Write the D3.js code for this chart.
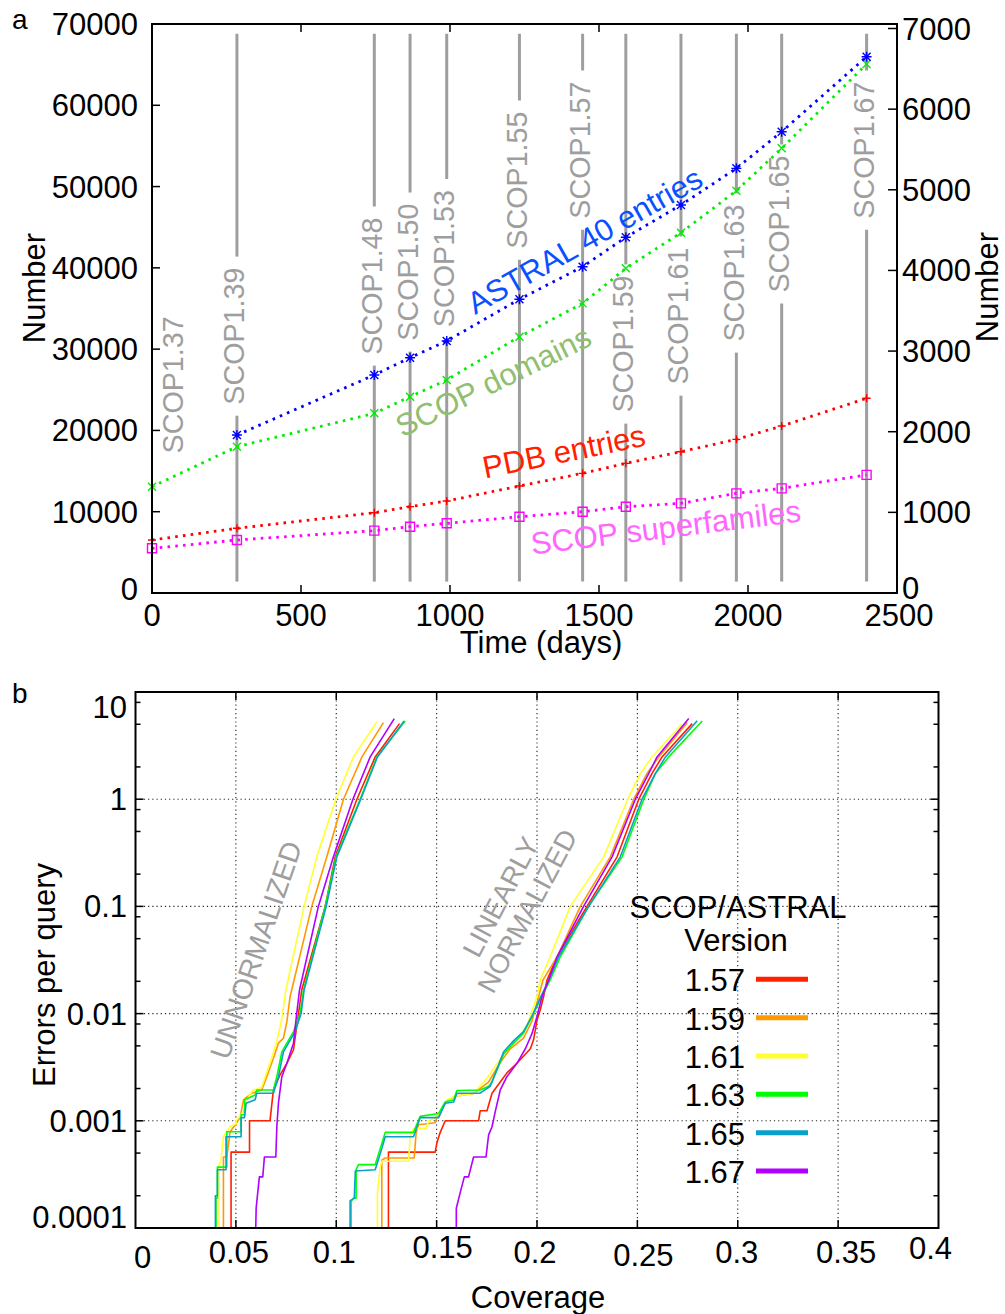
<!DOCTYPE html>
<html>
<head>
<meta charset="utf-8">
<script src="https://cdn.jsdelivr.net/npm/d3@7/dist/d3.min.js"></script>
<style>
  body { margin: 0; background: #fff; }
  svg text { font-family: "Liberation Sans", Arial, Helvetica, sans-serif; }
</style>
</head>
<body>
<svg id="fig" width="1005" height="1314"></svg>
<script>
// ---------- Panel a: growth of SCOP / ASTRAL over time ----------
const releases      = ["1.37","1.39","1.48","1.50","1.53","1.55","1.57","1.59","1.61","1.63","1.65","1.67"];
const releaseDays   = [0, 285, 746, 866, 989, 1233, 1445, 1590, 1775, 1961, 2113, 2398];
// height (left-axis units) at which each release label is centred
const releaseLabelAt = [25600, 31600, 37760, 39480, 41140, 50800, 54490, 30630, 34070, 39360, 45390, 54490];
// left axis
const scopDomains   = [13080, 18000, 22100, 24150, 26200, 31530, 35630, 39940, 44320, 49490, 54700, 65070];
const pdbEntries    = [6520, 7960, 9880, 10620, 11320, 13160, 14720, 15950, 17380, 18900, 20540, 23950];
// right axis
const astral40      = [null, 1959, 2703, 2918, 3125, 3642, 4046, 4411, 4811, 5266, 5720, 6650];
const superfamilies = [554, 657, 773, 822, 864, 946, 1008, 1070, 1112, 1236, 1298, 1465];

const timeTicks  = [0, 500, 1000, 1500, 2000, 2500];
const leftTicks  = [0, 10000, 20000, 30000, 40000, 50000, 60000, 70000];
const rightTicks = [0, 1000, 2000, 3000, 4000, 5000, 6000, 7000];

// ---------- Panel b: errors per query vs coverage ----------
const versions = ["1.57", "1.59", "1.61", "1.63", "1.65", "1.67"];
const covTicks = [0, 0.05, 0.1, 0.15, 0.2, 0.25, 0.3, 0.35, 0.4];
const errTicks = [0.0001, 0.001, 0.01, 0.1, 1, 10];
const errTickLabels = ["0.0001", "0.001", "0.01", "0.1", "1", "10"];

// [coverage, errors per query]
const unnorm157 = [[0.0476,1e-4],[0.0476,5.1e-4],[0.0568,5.1e-4],[0.0568,1.0e-3],[0.0670,1.0e-3],[0.0687,1.94e-3],[0.0720,2.68e-3],[0.0754,3.44e-3],[0.0787,4.6e-3],[0.0812,0.01],[0.0828,0.0166],[0.0945,0.1],[0.0995,0.29],[0.1103,1],[0.1194,2.48],[0.1315,5.07]];
const unnorm159 = [[0.0438,1e-4],[0.0438,4.6e-4],[0.0455,4.6e-4],[0.0471,7.9e-4],[0.0501,9.4e-4],[0.0521,1.07e-3],[0.0538,1.57e-3],[0.0579,1.81e-3],[0.0629,1.94e-3],[0.0654,2.58e-3],[0.0687,3.83e-3],[0.0712,5.3e-3],[0.0737,5.9e-3],[0.0754,8.4e-3],[0.0770,0.0144],[0.0778,0.0166],[0.0878,0.1],[0.0953,0.29],[0.1036,1],[0.1128,2.48],[0.1235,5.18]];
const unnorm161 = [[0.0416,1e-4],[0.0416,3.9e-4],[0.0425,4.2e-4],[0.0438,7.1e-4],[0.0471,8.8e-4],[0.0501,9.4e-4],[0.0501,1.0e-3],[0.0538,1.22e-3],[0.0551,1.46e-3],[0.0568,1.74e-3],[0.0587,1.94e-3],[0.0629,2.06e-3],[0.0646,2.58e-3],[0.0670,3.44e-3],[0.0704,5.5e-3],[0.0729,9.0e-3],[0.0749,0.0166],[0.0840,0.1],[0.0903,0.29],[0.0998,1],[0.1086,2.48],[0.1202,5.26]];
const unnorm163 = [[0.0401,1e-4],[0.0401,1.9e-4],[0.0408,1.9e-4],[0.0408,3.7e-4],[0.0455,3.7e-4],[0.0455,7.9e-4],[0.0526,7.9e-4],[0.0526,1.14e-3],[0.0543,1.14e-3],[0.0543,1.57e-3],[0.0596,1.74e-3],[0.0604,1.94e-3],[0.0687,1.94e-3],[0.0704,2.58e-3],[0.0729,4.4e-3],[0.0787,6.8e-3],[0.0820,0.01],[0.0837,0.0166],[0.0945,0.1],[0.0999,0.29],[0.1119,1],[0.1202,2.48],[0.1343,5.37]];
const unnorm165 = [[0.0398,1e-4],[0.0398,2.0e-4],[0.0408,2.0e-4],[0.0408,3.5e-4],[0.0451,3.5e-4],[0.0451,7.1e-4],[0.0526,7.1e-4],[0.0526,1.07e-3],[0.0543,1.07e-3],[0.0551,1.46e-3],[0.0596,1.57e-3],[0.0604,1.81e-3],[0.0687,1.81e-3],[0.0712,2.58e-3],[0.0737,4.4e-3],[0.0795,6.8e-3],[0.0825,0.01],[0.0840,0.0166],[0.0950,0.1],[0.1003,0.29],[0.1122,1],[0.1205,2.48],[0.1338,5.37]];
const unnorm167 = [[0.0599,1e-4],[0.0601,1.53e-4],[0.0617,3.0e-4],[0.0634,3.0e-4],[0.0642,4.6e-4],[0.0699,4.6e-4],[0.0704,8.8e-4],[0.0712,1.46e-3],[0.0729,2.58e-3],[0.0754,3.44e-3],[0.0787,5.3e-3],[0.0803,0.01],[0.0817,0.0166],[0.0911,0.1],[0.0986,0.29],[0.1083,1],[0.1169,2.48],[0.1289,5.65]];

const linnorm157 = [[0.1260,1e-4],[0.1260,5.1e-4],[0.1493,5.1e-4],[0.1501,6.2e-4],[0.1518,7.8e-4],[0.1543,1.0e-3],[0.1709,1.0e-3],[0.1717,1.24e-3],[0.1751,1.24e-3],[0.1776,1.81e-3],[0.1817,2.3e-3],[0.1850,2.8e-3],[0.1900,3.44e-3],[0.1967,4.7e-3],[0.1983,5.7e-3],[0.2000,8.7e-3],[0.2016,0.0108],[0.2033,0.0144],[0.2050,0.0206],[0.2100,0.0339],[0.2249,0.1],[0.2399,0.29],[0.2507,1],[0.2573,1.74],[0.2623,2.48],[0.2773,5.07]];
const linnorm159 = [[0.1227,1e-4],[0.1227,4.3e-4],[0.1244,4.5e-4],[0.1388,4.5e-4],[0.1398,7.7e-4],[0.1410,9.2e-4],[0.1493,9.6e-4],[0.1501,1.07e-3],[0.1518,1.2e-3],[0.1551,1.55e-3],[0.1593,1.7e-3],[0.1684,1.8e-3],[0.1759,2.3e-3],[0.1817,3.5e-3],[0.1867,4.7e-3],[0.1933,5.9e-3],[0.1975,8.5e-3],[0.2008,0.0144],[0.2030,0.0206],[0.2100,0.0339],[0.2216,0.1],[0.2365,0.29],[0.2482,1],[0.2548,1.74],[0.2607,2.48],[0.2748,5.18]];
const linnorm161 = [[0.1205,1e-4],[0.1205,2.1e-4],[0.1219,3.7e-4],[0.1227,4.2e-4],[0.1360,4.2e-4],[0.1368,7.1e-4],[0.1385,8.5e-4],[0.1448,8.5e-4],[0.1460,1.0e-3],[0.1493,1.07e-3],[0.1518,1.22e-3],[0.1551,1.57e-3],[0.1593,1.7e-3],[0.1684,1.8e-3],[0.1751,2.5e-3],[0.1801,3.4e-3],[0.1850,4.7e-3],[0.1917,6.3e-3],[0.1950,7.8e-3],[0.2000,0.0144],[0.2016,0.0206],[0.2066,0.0339],[0.2166,0.1],[0.2332,0.29],[0.2452,1],[0.2515,1.74],[0.2573,2.48],[0.2720,5.0]];
const linnorm163 = [[0.1074,1e-4],[0.1074,1.77e-4],[0.1086,1.9e-4],[0.1099,1.9e-4],[0.1099,3.5e-4],[0.1111,3.9e-4],[0.1194,3.9e-4],[0.1219,5.5e-4],[0.1244,7.8e-4],[0.1385,7.8e-4],[0.1418,1.1e-3],[0.1510,1.17e-3],[0.1543,1.5e-3],[0.1585,1.57e-3],[0.1601,1.92e-3],[0.1717,1.94e-3],[0.1759,2.1e-3],[0.1776,2.3e-3],[0.1834,4.2e-3],[0.1884,5.3e-3],[0.1933,6.6e-3],[0.1975,9.3e-3],[0.2016,0.0135],[0.2066,0.0206],[0.2116,0.0339],[0.2257,0.1],[0.2424,0.29],[0.2532,1],[0.2590,1.74],[0.2656,2.48],[0.2823,5.37]];
const linnorm165 = [[0.1069,1e-4],[0.1069,1.8e-4],[0.1090,1.9e-4],[0.1095,3.4e-4],[0.1194,3.5e-4],[0.1227,5.5e-4],[0.1244,7.1e-4],[0.1385,7.1e-4],[0.1418,1.07e-3],[0.1510,1.07e-3],[0.1543,1.46e-3],[0.1585,1.5e-3],[0.1601,1.81e-3],[0.1717,1.81e-3],[0.1767,2.1e-3],[0.1834,4.4e-3],[0.1884,5.6e-3],[0.1933,6.8e-3],[0.1975,9.5e-3],[0.2016,0.014],[0.2060,0.0206],[0.2108,0.0339],[0.2257,0.1],[0.2415,0.29],[0.2523,1],[0.2590,1.74],[0.2640,2.48],[0.2798,5.4]];
const linnorm167 = [[0.1598,1e-4],[0.1598,1.53e-4],[0.1621,2.27e-4],[0.1638,3.0e-4],[0.1659,3.0e-4],[0.1684,4.6e-4],[0.1746,4.6e-4],[0.1759,7.4e-4],[0.1776,8.8e-4],[0.1792,1.22e-3],[0.1817,1.94e-3],[0.1850,2.58e-3],[0.1900,3.44e-3],[0.1942,4.7e-3],[0.1975,6.5e-3],[0.2000,9.4e-3],[0.2025,0.0144],[0.2058,0.0206],[0.2100,0.0339],[0.2232,0.1],[0.2374,0.29],[0.2490,1],[0.2557,1.74],[0.2598,2.48],[0.2756,5.65]];

const unnormalized = [unnorm157, unnorm159, unnorm161, unnorm163, unnorm165, unnorm167];
const linearlyNormalized = [linnorm157, linnorm159, linnorm161, linnorm163, linnorm165, linnorm167];

// ---------- styling ----------
const FONT = 31;
const versionColors = ["#ff2000", "#ff9900", "#ffff33", "#00ff00", "#0aa0cc", "#b000ff"];
const grey = "#9e9e9e";

const svg = d3.select("#fig");

/* ================= Panel a ================= */
const A = { left: 152, right: 897, top: 24, bottom: 593 };
const x = d3.scaleLinear().domain([0, 2500]).range([A.left, A.right]);
const yL = d3.scaleLinear().domain([0, 70000]).range([A.bottom, A.top]);
const yR = d3.scaleLinear().domain([0, 7000]).range([A.bottom, 28.5]);

const gA = svg.append("g");

// release markers: grey vertical rules broken around rotated labels
const relG = gA.append("g");
const ruleTop = yL(68800), ruleBottom = yL(1400);
releases.forEach((r, i) => {
  const px = x(releaseDays[i]);
  const cy = yL(releaseLabelAt[i]);
  const shift = releaseDays[i] === 0 ? 23 : 0;
  const t = relG.append("text")
    .attr("transform", `translate(${px + 7.5 + shift},${cy}) rotate(-90)`)
    .attr("text-anchor", "middle")
    .attr("font-size", 28.7)
    .attr("fill", grey)
    .text("SCOP" + r);
  if (releaseDays[i] === 0) return;
  const half = t.node().getComputedTextLength() / 2 + 11;
  relG.append("line").attr("x1", px).attr("x2", px).attr("y1", ruleTop).attr("y2", cy - half)
    .attr("stroke", grey).attr("stroke-width", 3);
  relG.append("line").attr("x1", px).attr("x2", px).attr("y1", cy + half).attr("y2", ruleBottom)
    .attr("stroke", grey).attr("stroke-width", 3);
});

// marker shapes
const markers = {
  plus:   "M-4,0H4M0,-4V4",
  cross:  "M-4,-4L4,4M-4,4L4,-4",
  star:   "M-5,0H5M0,-5V5M-4,-4L4,4M-4,4L4,-4",
  square: "M-4.5,-4.5H4.5V4.5H-4.5Z"
};

function drawSeries(values, yScale, color, marker) {
  const pts = values.map((v, i) => ({ d: releaseDays[i], v })).filter(p => p.v != null);
  gA.append("path")
    .datum(pts)
    .attr("fill", "none")
    .attr("stroke", color)
    .attr("stroke-width", 2.8)
    .attr("stroke-dasharray", "2.6,5.2")
    .attr("d", d3.line().x(p => x(p.d)).y(p => yScale(p.v)));
  gA.append("g").selectAll("path").data(pts).join("path")
    .attr("transform", p => `translate(${x(p.d)},${yScale(p.v)})`)
    .attr("d", markers[marker])
    .attr("fill", "none")
    .attr("stroke", color)
    .attr("stroke-width", 1.4);
}
drawSeries(superfamilies, yR, "#ff00ff", "square");
drawSeries(pdbEntries, yL, "#ff0000", "plus");
drawSeries(scopDomains, yL, "#00ee00", "cross");
drawSeries(astral40, yR, "#0000ff", "star");

// frame and ticks
gA.append("rect").attr("x", A.left).attr("y", A.top)
  .attr("width", A.right - A.left).attr("height", A.bottom - A.top)
  .attr("fill", "none").attr("stroke", "#000").attr("stroke-width", 2);

const tickA = gA.append("g").attr("stroke", "#000").attr("stroke-width", 1.5);
timeTicks.slice(1, -1).forEach(t => {
  tickA.append("line").attr("x1", x(t)).attr("x2", x(t)).attr("y1", A.bottom).attr("y2", A.bottom - 8);
  tickA.append("line").attr("x1", x(t)).attr("x2", x(t)).attr("y1", A.top).attr("y2", A.top + 8);
});
leftTicks.slice(1, -1).forEach(t => {
  tickA.append("line").attr("x1", A.left).attr("x2", A.left + 8).attr("y1", yL(t)).attr("y2", yL(t));
});
rightTicks.slice(1).forEach(t => {
  tickA.append("line").attr("x1", A.right).attr("x2", A.right - 9).attr("y1", yR(t)).attr("y2", yR(t));
});

// tick labels
gA.append("g").selectAll("text").data(timeTicks).join("text")
  .attr("x", d => x(d) + (d === 2500 ? 2 : 0)).attr("y", 626)
  .attr("text-anchor", "middle").attr("font-size", FONT).text(d => d);
gA.append("g").selectAll("text").data(leftTicks).join("text")
  .attr("x", 138).attr("y", d => yL(d) + 11 - (d === 0 ? 4 : 0))
  .attr("text-anchor", "end").attr("font-size", FONT).text(d => d);
gA.append("g").selectAll("text").data(rightTicks).join("text")
  .attr("x", 902).attr("y", d => yR(d) + 11 - (d === 0 ? 5 : 0))
  .attr("text-anchor", "start").attr("font-size", FONT).text(d => d);

// axis titles
gA.append("text").attr("transform", "translate(45,288) rotate(-90)")
  .attr("text-anchor", "middle").attr("font-size", FONT).text("Number");
gA.append("text").attr("transform", "translate(998,287) rotate(-90)")
  .attr("text-anchor", "middle").attr("font-size", FONT).text("Number");
gA.append("text").attr("x", 541).attr("y", 653)
  .attr("text-anchor", "middle").attr("font-size", FONT).text("Time (days)");
svg.append("text").attr("x", 12).attr("y", 29).attr("font-size", 28).text("a");

// series annotations along the curves
const notes = [
  { text: "ASTRAL 40 entries", x: 590, y: 250, angle: -29.5, color: "#0a50ff" },
  { text: "SCOP domains",      x: 498, y: 391, angle: -26,   color: "#8fbf6f" },
  { text: "PDB entries",       x: 566, y: 462, angle: -11.5, color: "#ff2000" },
  { text: "SCOP superfamiles", x: 667, y: 538, angle: -7,    color: "#ff66ff" }
];
gA.append("g").selectAll("text").data(notes).join("text")
  .attr("transform", d => `translate(${d.x},${d.y}) rotate(${d.angle})`)
  .attr("text-anchor", "middle").attr("font-size", FONT)
  .attr("fill", d => d.color).text(d => d.text);

/* ================= Panel b ================= */
const B = { left: 135.5, right: 938.5, top: 692, bottom: 1228 };
const xb = d3.scaleLinear().domain([0, 0.4]).range([B.left, B.right]);
const yb = d3.scaleLog().domain([1e-4, 10]).range([B.bottom, B.top]);
const gB = svg.append("g");

// dotted grid
const grid = gB.append("g").attr("stroke", "#222").attr("stroke-width", 1.1)
  .attr("stroke-dasharray", "1.2,3");
covTicks.slice(1, -1).forEach(t => {
  grid.append("line").attr("x1", xb(t)).attr("x2", xb(t)).attr("y1", B.top).attr("y2", B.bottom);
});
errTicks.slice(1, -1).forEach(t => {
  grid.append("line").attr("x1", B.left).attr("x2", B.right).attr("y1", yb(t)).attr("y2", yb(t));
});

// curves
const lineB = d3.line().x(d => xb(d[0])).y(d => yb(d[1]));
[unnormalized, linearlyNormalized].forEach(group => {
  group.forEach((pts, i) => {
    gB.append("path").datum(pts)
      .attr("fill", "none").attr("stroke", versionColors[i])
      .attr("stroke-width", 1.6).attr("stroke-linejoin", "round")
      .attr("d", lineB);
  });
});

// frame and ticks
gB.append("rect").attr("x", B.left).attr("y", B.top)
  .attr("width", B.right - B.left).attr("height", B.bottom - B.top)
  .attr("fill", "none").attr("stroke", "#000").attr("stroke-width", 2);
const tickB = gB.append("g").attr("stroke", "#000").attr("stroke-width", 1.5);
covTicks.slice(1, -1).forEach(t => {
  tickB.append("line").attr("x1", xb(t)).attr("x2", xb(t)).attr("y1", B.bottom).attr("y2", B.bottom - 8);
  tickB.append("line").attr("x1", xb(t)).attr("x2", xb(t)).attr("y1", B.top).attr("y2", B.top + 8);
});
errTicks.forEach(t => {
  tickB.append("line").attr("x1", B.left).attr("x2", B.left + 8).attr("y1", yb(t)).attr("y2", yb(t));
  tickB.append("line").attr("x1", B.right).attr("x2", B.right - 8).attr("y1", yb(t)).attr("y2", yb(t));
  if (t < 10) {
    [2, 5, 8].forEach(m => {
      const v = t * m;
      tickB.append("line").attr("x1", B.left).attr("x2", B.left + 5).attr("y1", yb(v)).attr("y2", yb(v));
      tickB.append("line").attr("x1", B.right).attr("x2", B.right - 5).attr("y1", yb(v)).attr("y2", yb(v));
    });
  }
});

// tick labels (hand-set offsets for the coverage labels)
const covLabelNudge = [[7, 6], [3, 1], [-2, 1], [6, -4], [-2, 1], [6, 4], [-1, 1], [8, 1], [-8, -3]];
gB.append("g").selectAll("text").data(covTicks).join("text")
  .attr("x", (d, i) => xb(d) + covLabelNudge[i][0])
  .attr("y", (d, i) => 1251 + 11 + covLabelNudge[i][1])
  .attr("text-anchor", "middle").attr("font-size", FONT)
  .text(d => d);
const errLabelNudge = [-11, 0, 0, 0, 0, 15];
gB.append("g").selectAll("text").data(errTicks).join("text")
  .attr("x", 127)
  .attr("y", (d, i) => yb(d) + 11 + errLabelNudge[i])
  .attr("text-anchor", "end").attr("font-size", FONT)
  .text((d, i) => errTickLabels[i]);

gB.append("text").attr("transform", "translate(55,975) rotate(-90)")
  .attr("text-anchor", "middle").attr("font-size", FONT).text("Errors per query");
gB.append("text").attr("x", 538).attr("y", 1308)
  .attr("text-anchor", "middle").attr("font-size", FONT).text("Coverage");
svg.append("text").attr("x", 12).attr("y", 703).attr("font-size", 28).text("b");

// method annotations
gB.append("text").attr("transform", "translate(256,950) rotate(-71)")
  .attr("text-anchor", "middle").attr("dominant-baseline", "central")
  .attr("font-size", 28.5).attr("fill", grey).text("UNNORMALIZED");
const ln = gB.append("g").attr("transform", "translate(514,904) rotate(-62)")
  .attr("font-size", 27.5).attr("fill", grey).attr("text-anchor", "middle");
ln.append("text").attr("y", -15).attr("dominant-baseline", "central").text("LINEARLY");
ln.append("text").attr("y", 15).attr("dominant-baseline", "central").text("NORMALIZED");

// legend
const leg = gB.append("g");
leg.append("text").attr("x", 738).attr("y", 918).attr("text-anchor", "middle")
  .attr("font-size", FONT).text("SCOP/ASTRAL");
leg.append("text").attr("x", 736).attr("y", 951).attr("text-anchor", "middle")
  .attr("font-size", FONT).text("Version");
versions.forEach((v, i) => {
  const ly = 979.3 + i * 38.35;
  leg.append("text").attr("x", 745).attr("y", ly + 12).attr("text-anchor", "end")
    .attr("font-size", FONT).text(v);
  leg.append("line").attr("x1", 756).attr("x2", 808).attr("y1", ly).attr("y2", ly)
    .attr("stroke", versionColors[i]).attr("stroke-width", 5);
});
</script>
</body>
</html>
